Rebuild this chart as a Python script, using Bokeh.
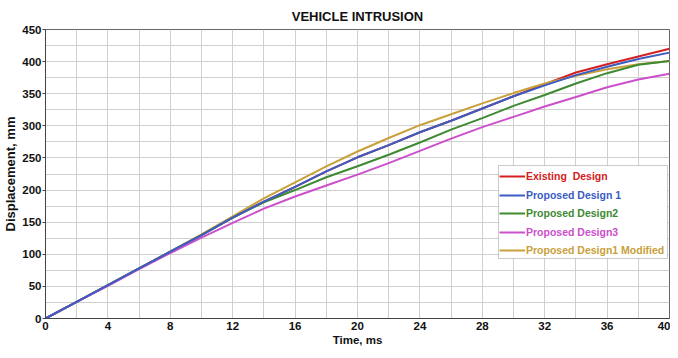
from bokeh.plotting import figure
from bokeh.models import (FixedTicker, Legend, LegendItem, BoxAnnotation, Range1d)
from bokeh.embed import file_html
from bokeh.resources import INLINE

time_ms = [0, 2, 4, 6, 8, 10, 12, 14, 16, 18, 20, 22, 24, 26, 28, 30, 32, 34, 36, 38, 40]
existing = [0, 26, 52, 78, 104, 130, 157, 182, 205, 229, 251, 270, 290, 308, 327, 346, 365, 383, 396, 408, 420]
design1 = [0, 26, 52, 78, 104, 130, 157, 182, 205, 229, 251, 270, 290, 308, 327, 346, 363, 379, 392, 404, 414]
design2 = [0, 26, 52, 78, 104, 130, 157, 181, 200, 220, 237, 255, 274, 294, 312, 331, 348, 366, 382, 395, 401]
design3 = [0, 26, 51, 77, 102, 126, 149, 171, 190, 207, 224, 242, 261, 280, 298, 314, 330, 345, 360, 372, 381]
design1_mod = [0, 26, 52, 78, 104, 131, 159, 187, 212, 237, 260, 281, 301, 318, 335, 351, 366, 378, 388, 396, 401]

series_names = ["Existing  Design", "Proposed Design 1", "Proposed Design2",
                "Proposed Design3", "Proposed Design1 Modified"]
series_values = [existing, design1, design2, design3, design1_mod]
series_colors = ["#d42020", "#3a5cc4", "#3e8a32", "#cc4fcc", "#c9a03a"]
draw_order = [0, 4, 2, 3, 1]

x_ticks = [0, 4, 8, 12, 16, 20, 24, 28, 32, 36, 40]
x_minor = [2, 6, 10, 14, 18, 22, 26, 30, 34, 38]
y_ticks = [0, 50, 100, 150, 200, 250, 300, 350, 400, 450]
y_minor = [25, 75, 125, 175, 225, 275, 325, 375, 425]

FONT = "Liberation Sans"
FW, FH = 624, 289

p = figure(frame_width=FW, frame_height=FH, output_backend="svg", toolbar_location=None,
           x_range=Range1d(0, 40), y_range=Range1d(0, 450),
           min_border_left=37, min_border_right=1, min_border_top=0, min_border_bottom=30,
           title="VEHICLE INTRUSION")
p.title.align = "center"
p.title.text_font = FONT
p.title.text_font_size = "13px"
p.title.text_font_style = "bold"
p.title.text_color = "#111111"
p.title.standoff = 12

p.outline_line_color = "#666666"
p.background_fill_color = "white"
p.border_fill_color = "white"

p.xaxis.ticker = FixedTicker(ticks=x_ticks, minor_ticks=x_minor)
p.yaxis.ticker = FixedTicker(ticks=y_ticks, minor_ticks=y_minor)
for ax in (p.xaxis, p.yaxis):
    ax.major_label_text_font = FONT
    ax.major_label_text_font_size = "11.5px"
    ax.major_label_text_font_style = "bold"
    ax.major_label_text_color = "#111111"
    ax.axis_label_text_font = FONT
    ax.axis_label_text_font_style = "bold"
    ax.axis_label_text_color = "#111111"
    ax.axis_line_color = "#444444"
    ax.major_tick_line_color = "#444444"
    ax.major_tick_out = 3
    ax.major_tick_in = 0
    ax.minor_tick_out = 0
    ax.minor_tick_in = 0
    ax.major_label_standoff = 1
    ax.axis_label_standoff = 1
p.xaxis.axis_label = "Time, ms"
p.yaxis.axis_label = "Displacement, mm"
p.xaxis.axis_label_text_font_size = "11.5px"
p.yaxis.axis_label_text_font_size = "13px"
p.xaxis.major_tick_out = 0
p.xaxis.major_label_standoff = 3

for g in (p.xgrid, p.ygrid):
    g.grid_line_color = "#cfcfcf"
    g.minor_grid_line_color = "#cfcfcf"
    g.grid_line_width = 1

renderers = {}
for i in draw_order:
    renderers[i] = p.line(time_ms, series_values[i], line_color=series_colors[i], line_width=2)

# legend box (screen units relative to the frame)
box_w, box_h = 169, 93
box_right = FW - 2
box_bottom = 60
box = BoxAnnotation(left=box_right - box_w, right=box_right, bottom=box_bottom, top=box_bottom + box_h,
                    left_units="screen", right_units="screen", bottom_units="screen", top_units="screen",
                    fill_color="white", fill_alpha=1.0, line_color="#555555", line_width=1)
p.add_layout(box)

row_h = 18.5
for k in range(5):
    center = box_bottom + box_h - 11 - k * row_h
    leg = Legend(items=[LegendItem(label=series_names[k], renderers=[renderers[k]])],
                 location=(box_right - box_w + 1, center - 9),
                 padding=0, margin=0, spacing=0,
                 glyph_width=26, glyph_height=18, label_height=18, label_standoff=1,
                 border_line_color=None, background_fill_alpha=0.0,
                 label_text_font=FONT, label_text_font_size="10.5px",
                 label_text_font_style="bold", label_text_color=series_colors[k])
    p.add_layout(leg)

open("out.html", "w").write(file_html(p, INLINE))
